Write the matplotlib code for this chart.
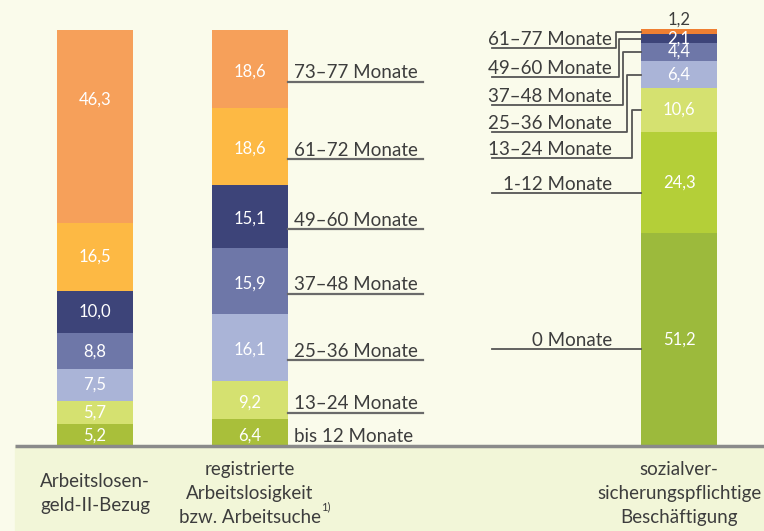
import matplotlib
matplotlib.use("Agg")
import matplotlib.pyplot as plt

plt.rcParams['font.family'] = ['Lato', 'DejaVu Sans']

# data (shares in percent, bottom to top)
bar_names = ["Arbeitslosen-\ngeld-II-Bezug",
             "registrierte\nArbeitslosigkeit\nbzw. Arbeitsuche",
             "sozialver-\nsicherungspflichtige\nBeschäftigung"]
alg2 = [5.2, 5.7, 7.5, 8.8, 10.0, 16.5, 46.3]
arbeitslos = [6.4, 9.2, 16.1, 15.9, 15.1, 18.6, 18.6]
beschaeftigt = [51.2, 24.3, 10.6, 6.4, 4.4, 2.1, 1.2]
labels_mid = ["bis 12 Monate", "13–24 Monate", "25–36 Monate", "37–48 Monate",
              "49–60 Monate", "61–72 Monate", "73–77 Monate"]
labels_right = ["0 Monate", "1-12 Monate", "13–24 Monate", "25–36 Monate",
                "37–48 Monate", "49–60 Monate", "61–77 Monate"]

colors_12 = ['#A9BF3A', '#D5E170', '#AAB4D7', '#6E77A8', '#3D4479', '#FDB944', '#F6A05A']
colors_3 = ['#9CBA3C', '#B4CF38', '#D5E170', '#AAB4D7', '#6E77A8', '#3D4479', '#EF7F32']

bg = '#FAFBEB'
panel = '#F2F6D8'
txt = '#3d3d3d'
line_c = '#555555'

# layout (x in pixels, y in percent)
bar_x = [95, 250, 679]
bar_w = 76

fig = plt.figure(figsize=(7.64, 5.31), dpi=100, facecolor=bg)
ax = fig.add_axes([0, 0, 1, 1])
ax.set_facecolor(bg)
ax.set_xlim(0, 764)
ax.set_ylim(-20.43, 107.21)
ax.axis('off')

ax.axhspan(-20.43, 0, xmin=15 / 764, xmax=1, color=panel, zorder=0)
ax.plot([15, 764], [0, 0], color='#8a8a8a', lw=2.5, zorder=3, solid_capstyle='butt')


def fmt(v):
    return f"{v:.1f}".replace('.', ',')


def stack(x, values, colors):
    # draws one stacked bar, returns (bottom, top) of every segment
    bottom = 0
    segs = []
    for v, c in zip(values, colors):
        ax.bar(x, v, bottom=bottom, width=bar_w, color=c, zorder=2)
        segs.append((bottom, bottom + v))
        bottom += v
    return segs


# bar 1
segs1 = stack(bar_x[0], alg2, colors_12)
for i, (v, (b, t)) in enumerate(zip(alg2, segs1)):
    f = 0.64 if i == len(alg2) - 1 else 0.5
    ax.text(bar_x[0], b + v * f, fmt(v), color='white', fontsize=12, ha='center', va='center', zorder=4)

# bar 2
segs2 = stack(bar_x[1], arbeitslos, colors_12)
for i, (v, (b, t)) in enumerate(zip(arbeitslos, segs2)):
    m = (b + t) / 2
    ax.text(bar_x[1], m - 0.6, fmt(v), color='white', fontsize=12, ha='center', va='center', zorder=4)
    uy = m - 3.0
    ax.text(bar_x[1] + bar_w / 2 + 6, uy + 0.8, labels_mid[i], color=txt, fontsize=13.5,
            ha='left', va='baseline')
    if i > 0:
        ax.plot([bar_x[1] + bar_w / 2, 423], [uy, uy], color='#6a6a6a', lw=1.6)

# bar 3
segs3 = stack(bar_x[2], beschaeftigt, colors_3)
line_y3 = [23.3, 60.8, 69.2, 75.5, 82.0, 88.7, 95.7]
elbow_x3 = [None, None, 632, 627, 623, 619, 616]
left3 = bar_x[2] - bar_w / 2
for i, (v, (b, t)) in enumerate(zip(beschaeftigt, segs3)):
    m = (b + t) / 2
    if i == len(beschaeftigt) - 1:
        ax.text(bar_x[2], t + 0.4, fmt(v), color=txt, fontsize=12, ha='center', va='bottom', zorder=4)
    else:
        ax.text(bar_x[2], m, fmt(v), color='white', fontsize=12, ha='center', va='center', zorder=4)
    uy = line_y3[i]
    ax.text(612, uy + 0.8, labels_right[i], color=txt, fontsize=13.5, ha='right', va='baseline')
    if elbow_x3[i] is None:
        ax.plot([492, left3], [uy, uy], color=line_c, lw=1.3)
    else:
        ex = elbow_x3[i]
        ax.plot([492, ex, ex, left3], [uy, uy, m, m], color=line_c, lw=1.3)

# category labels
for x, name in zip(bar_x, bar_names):
    t = ax.text(x, -11.5, name, color=txt, fontsize=13.5, ha='center', va='center',
                multialignment='center', linespacing=1.5)
    if 'Arbeitsuche' in name:
        ax.annotate('1)', xy=(1, 0), xycoords=t, xytext=(0, 10), textcoords='offset points',
                    fontsize=8, color=txt, ha='left', va='bottom')

fig.savefig('out.png', dpi=100, facecolor=bg)
